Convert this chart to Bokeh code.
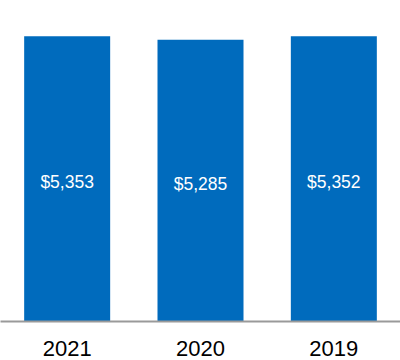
from bokeh.plotting import figure
from bokeh.models import ColumnDataSource, Range1d, LabelSet
from bokeh.core.properties import value
from bokeh.embed import file_html
from bokeh.resources import INLINE

years = ["2021", "2020", "2019"]
values = [5353, 5285, 5352]
labels = ["$5,353", "$5,285", "$5,352"]

src = ColumnDataSource(dict(years=years, values=values, labels=labels,
                            mid=[v / 2 for v in values]))

p = figure(x_range=years, y_range=Range1d(0, 6022), width=400, height=360,
           output_backend="svg", toolbar_location=None,
           min_border_left=0, min_border_right=0, min_border_top=0, min_border_bottom=39)
p.x_range.range_padding = 0
p.vbar(x="years", top="values", width=0.645, source=src,
       fill_color="#006BBD", line_color=None)

p.add_layout(LabelSet(x="years", y="mid", text="labels", source=src,
                      text_color="white", text_font=value("Liberation Sans"),
                      text_font_size="17.5px", text_align="center",
                      text_baseline="middle", y_offset=-3.5))

p.yaxis.visible = False
p.xgrid.visible = False
p.ygrid.visible = False
p.outline_line_color = None
p.xaxis.axis_line_color = "#9a9a9a"
p.xaxis.axis_line_width = 2
p.xaxis.major_tick_line_color = None
p.xaxis.minor_tick_line_color = None
p.xaxis.major_tick_out = 0
p.xaxis.major_tick_in = 0
p.xaxis.major_label_standoff = 19
p.xaxis.major_label_text_font = "Liberation Sans"
p.xaxis.major_label_text_font_size = "22px"
p.xaxis.major_label_text_color = "#000000"

open("out.html", "w").write(file_html(p, INLINE))
